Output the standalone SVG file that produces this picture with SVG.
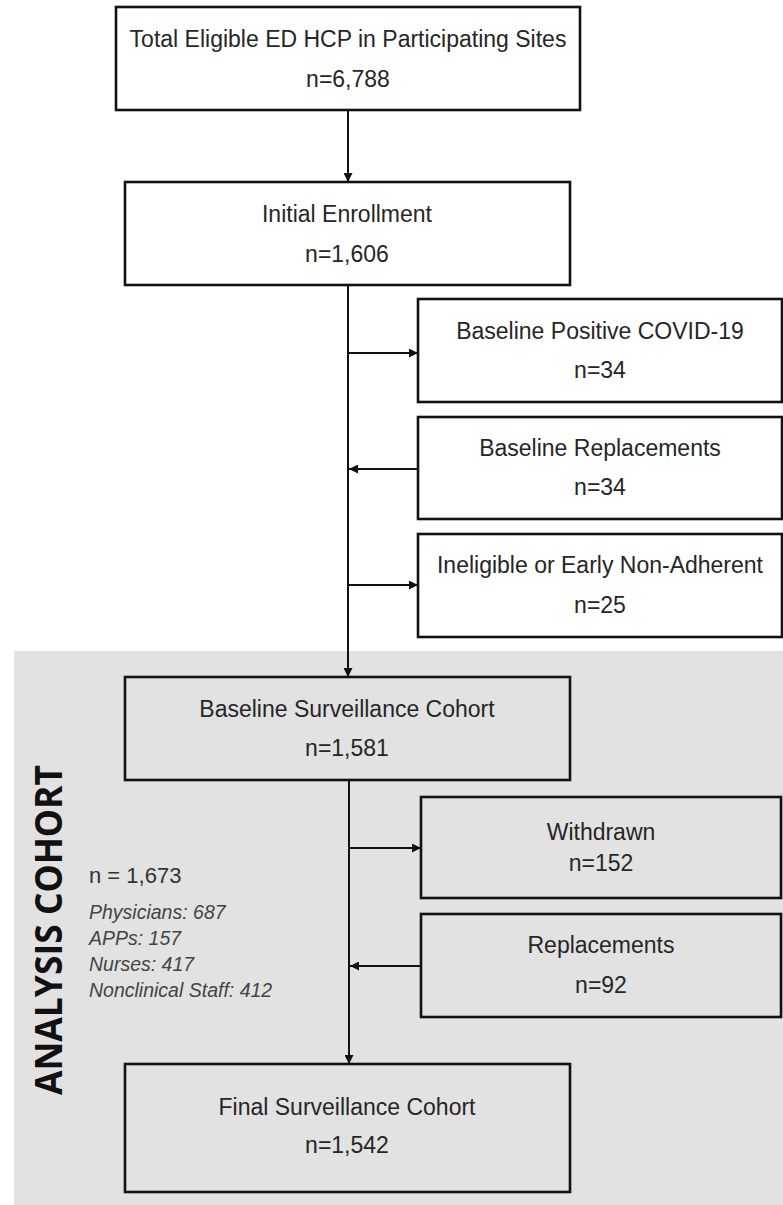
<svg xmlns="http://www.w3.org/2000/svg" width="783" height="1205" viewBox="0 0 783 1205">
<style>
.box{fill:#ffffff;stroke:#111;stroke-width:2.6}
.gbox{fill:none;stroke:#111;stroke-width:2.6}
.t{font-family:"Liberation Sans",Arial,sans-serif;font-size:23px;fill:#262626;text-anchor:middle}
.c{stroke:#111;stroke-width:2;fill:none}
.it{font-family:"Liberation Sans",Arial,sans-serif;font-size:19.5px;font-style:italic;fill:#444}
</style>
<defs>
<marker id="ah" viewBox="0 0 10 10" refX="10" refY="5" markerWidth="5" markerHeight="4.5" orient="auto" markerUnits="strokeWidth">
<path d="M0,0 L10,5 L0,10 z" fill="#111"/>
</marker>
</defs>
<rect x="0" y="0" width="783" height="1205" fill="#ffffff"/>
<rect id="analysis-bg" x="14" y="651" width="769" height="554" fill="#e2e2e2"/>

<g id="connectors">
<line class="c" x1="348" y1="110" x2="348" y2="182" marker-end="url(#ah)"/>
<line class="c" x1="348" y1="285" x2="348" y2="677" marker-end="url(#ah)"/>
<line class="c" x1="348" y1="353" x2="418" y2="353" marker-end="url(#ah)"/>
<line class="c" x1="418" y1="469" x2="349" y2="469" marker-end="url(#ah)"/>
<line class="c" x1="348" y1="585" x2="418" y2="585" marker-end="url(#ah)"/>
<line class="c" x1="349" y1="780" x2="349" y2="1064" marker-end="url(#ah)"/>
<line class="c" x1="349" y1="848" x2="421" y2="848" marker-end="url(#ah)"/>
<line class="c" x1="421" y1="966" x2="350" y2="966" marker-end="url(#ah)"/>
</g>

<g id="total">
<rect class="box" x="116" y="7" width="464" height="103"/>
<text class="t" x="348" y="47">Total Eligible ED HCP in Participating Sites</text>
<text class="t" x="348" y="87">n=6,788</text>
</g>
<g id="initial">
<rect class="box" x="125" y="182" width="445" height="103"/>
<text class="t" x="347" y="222">Initial Enrollment</text>
<text class="t" x="347" y="262">n=1,606</text>
</g>
<g id="positive">
<rect class="box" x="418" y="299" width="364" height="103"/>
<text class="t" x="600" y="339">Baseline Positive COVID-19</text>
<text class="t" x="600" y="378">n=34</text>
</g>
<g id="baseline-replacements">
<rect class="box" x="418" y="417" width="364" height="102"/>
<text class="t" x="600" y="456">Baseline Replacements</text>
<text class="t" x="600" y="495">n=34</text>
</g>
<g id="ineligible">
<rect class="box" x="418" y="534" width="364" height="103"/>
<text class="t" x="600" y="573">Ineligible or Early Non-Adherent</text>
<text class="t" x="600" y="613">n=25</text>
</g>
<g id="baseline-cohort">
<rect class="gbox" x="125" y="677" width="445" height="103"/>
<text class="t" x="347" y="717">Baseline Surveillance Cohort</text>
<text class="t" x="347" y="756">n=1,581</text>
</g>
<g id="withdrawn">
<rect class="gbox" x="421" y="797" width="360" height="101"/>
<text class="t" x="601" y="840">Withdrawn</text>
<text class="t" x="601" y="871">n=152</text>
</g>
<g id="replacements">
<rect class="gbox" x="421" y="914" width="360" height="103"/>
<text class="t" x="601" y="953">Replacements</text>
<text class="t" x="601" y="993">n=92</text>
</g>
<g id="final">
<rect class="gbox" x="125" y="1064" width="445" height="128"/>
<text class="t" x="347" y="1115">Final Surveillance Cohort</text>
<text class="t" x="347" y="1153">n=1,542</text>
</g>

<g id="analysis-label">
<text x="62" y="930" transform="rotate(-90 62 930)" text-anchor="middle" font-family="'Open Sans','Liberation Sans',sans-serif" font-weight="bold" font-size="38" fill="#111" textLength="330" lengthAdjust="spacingAndGlyphs">ANALYSIS COHORT</text>
<text x="89" y="883" font-family="'Liberation Sans',Arial,sans-serif" font-size="22" fill="#333">n = 1,673</text>
<text class="it" x="89" y="919">Physicians: 687</text>
<text class="it" x="89" y="945">APPs: 157</text>
<text class="it" x="89" y="971">Nurses: 417</text>
<text class="it" x="89" y="997">Nonclinical Staff: 412</text>
</g>
</svg>
